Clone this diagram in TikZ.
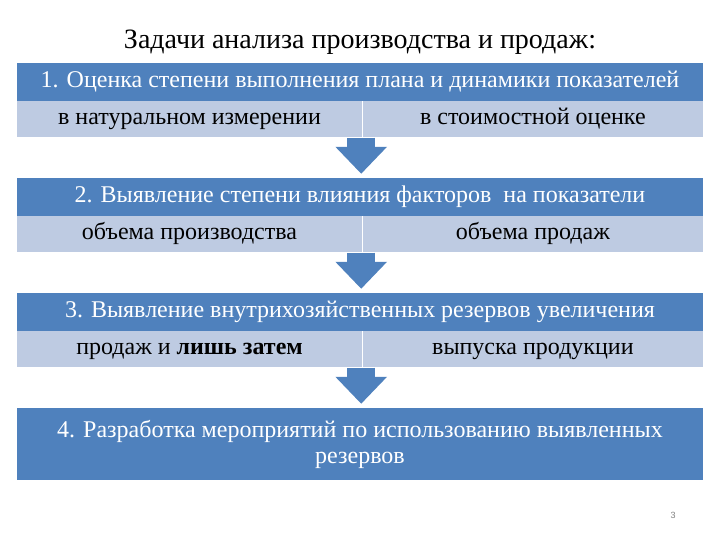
\documentclass[tikz,border=0pt]{standalone}
\usepackage{fontspec}
\setmainfont{Liberation Serif}
\setsansfont{Liberation Sans}
\usetikzlibrary{positioning, arrows.meta, calc}
\definecolor{hdrblue}{RGB}{79,129,189}
\definecolor{rowblue}{RGB}{190,203,226}

\begin{document}
\begin{tikzpicture}[x=1pt, y=-1pt, >=Triangle]
    \tikzset{head/.style={fill=hdrblue, text=white, minimum width=686pt, minimum height=38pt, inner sep=0pt, font=\fontsize{24}{26}\selectfont},
        half/.style={fill=rowblue, minimum height=36pt, inner sep=0pt, text height=16pt, text depth=5pt, font=\fontsize{24}{26}\selectfont},
        down/.style={-{Triangle[width=50pt,length=27pt]}, line width=28pt, hdrblue}
    }
    \useasboundingbox (0,0) rectangle (720,540);

    \node (Title) at (360,42) {\fontsize{28}{30}\selectfont Задачи анализа производства и продаж:};

    \foreach \i / \y / \head / \lt / \rt in {
        1/82/{1. Оценка степени выполнения плана и динамики показателей}/{в натуральном измерении}/{в стоимостной оценке},
        2/197/{2. Выявление степени влияния факторов\ \ на показатели}/{объема производства}/{объема продаж},
        3/312/{3. Выявление внутрихозяйственных резервов увеличения}/{продаж и \textbf{лишь затем}}/{выпуска продукции}} {
        \node (H\i) [head] at (360, \y) {\head};
        \node (L\i) [half, minimum width=345pt, anchor=north west] at (H\i.south west) {\lt};
        \node (R\i) [half, minimum width=341pt, right=0pt of L\i] {\rt};
        \draw [white, line width=1pt] (L\i.north east) -- (L\i.south east);
    }

    \node (H4) [head, minimum height=72pt, align=center] at (360,444) {4. Разработка мероприятий по использованию выявленных\\резервов};

    \foreach \i / \j in {1/2, 2/3, 3/4} {
        \draw [down] ($(L\i.south east)+(-1,0)$) -- ($(H\j.north -| L\i.south east)+(-1,-4)$);
    }

    \node (Page) [gray, font=\sffamily\fontsize{9}{10}\selectfont] at (673,515) {3};
\end{tikzpicture}
\end{document}
